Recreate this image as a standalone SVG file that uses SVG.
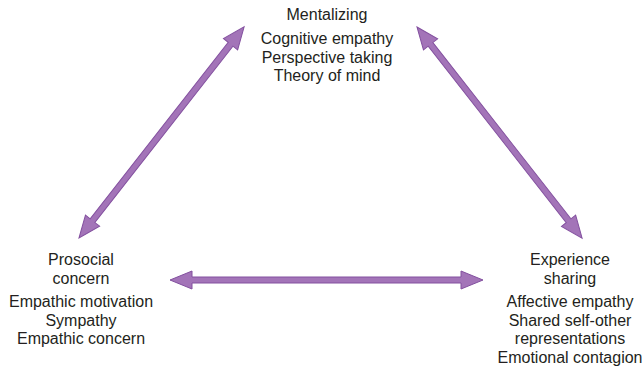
<svg xmlns="http://www.w3.org/2000/svg" xmlns:xlink="http://www.w3.org/1999/xlink" width="644" height="370" viewBox="0 0 644 370">
<style>
text{font-family:"Liberation Sans",Arial,sans-serif;font-size:16px;fill:#231f20;text-anchor:middle}
.arr{fill:#a374b8;stroke:#83509f;stroke-width:1;stroke-linejoin:miter}
</style>
<defs>
<polygon id="diag" class="arr" points="0,0 22,-9 22,-3 246,-3 246,-9 268,0 246,9 246,3 22,3 22,9"/>
<polygon id="horiz" class="arr" points="0,0 22,-9 22,-3 291,-3 291,-9 313,0 291,9 291,3 22,3 22,9"/>
</defs>
<rect width="644" height="370" fill="#fff"/>
<g id="connectors">
<use xlink:href="#diag" transform="translate(79,238) rotate(-51.97)"/>
<use xlink:href="#diag" transform="translate(417,27) rotate(51.97)"/>
<use xlink:href="#horiz" transform="translate(170,280)"/>
</g>
<g id="mentalizing">
<text x="327" y="20">Mentalizing</text>
<text x="327" y="44">Cognitive empathy</text>
<text x="327" y="62.5">Perspective taking</text>
<text x="327" y="81">Theory of mind</text>
</g>
<g id="prosocial">
<text x="81" y="265">Prosocial</text>
<text x="81" y="283.5">concern</text>
<text x="81" y="307">Empathic motivation</text>
<text x="81" y="325.5">Sympathy</text>
<text x="81" y="344">Empathic concern</text>
</g>
<g id="experience">
<text x="570" y="265">Experience</text>
<text x="570" y="283.5">sharing</text>
<text x="570" y="307">Affective empathy</text>
<text x="570" y="325.5">Shared self-other</text>
<text x="570" y="344">representations</text>
<text x="570" y="362.5">Emotional contagion</text>
</g>
</svg>
